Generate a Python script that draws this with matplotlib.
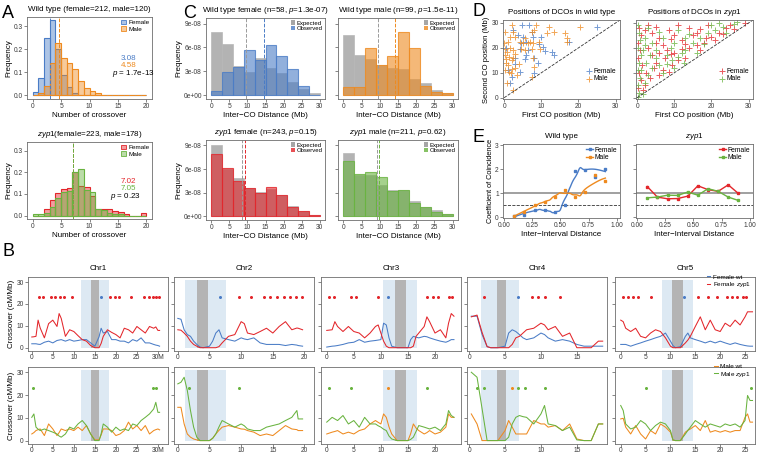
import numpy as np
import matplotlib
matplotlib.use('Agg')
import matplotlib.pyplot as plt
from matplotlib.colors import to_rgba
from matplotlib.lines import Line2D
from matplotlib.patches import Patch

plt.rcParams['font.family'] = ['Liberation Sans', 'DejaVu Sans']
plt.rcParams['mathtext.fontset'] = 'custom'
plt.rcParams['mathtext.rm'] = 'Liberation Sans'
plt.rcParams['mathtext.it'] = 'Liberation Sans:italic'

BLUE, ORANGE, RED, GREEN = '#4a7cc6', '#ee8a1f', '#e3262b', '#69b33f'
GRAY = '#a8a8a8'

# ---- panel A: crossover counts per gamete (bins of 1) ----
co_bins = np.arange(20)
a_wt_female = [0.013, 0.075, 0.25, 0.325, 0.2, 0.09, 0.035, 0.012, 0, 0, 0, 0, 0, 0, 0, 0, 0, 0, 0, 0]
a_wt_male = [0, 0.008, 0.04, 0.142, 0.225, 0.16, 0.14, 0.115, 0.063, 0.033, 0.017, 0.008, 0, 0, 0, 0, 0, 0, 0, 0]
a_zyp_female = [0, 0, 0.028, 0.07, 0.103, 0.123, 0.127, 0.2, 0.135, 0.13, 0.09, 0.03, 0.03, 0.03, 0.02, 0.015, 0.008, 0, 0, 0.01]
a_zyp_male = [0.005, 0.005, 0.01, 0.04, 0.08, 0.11, 0.115, 0.2, 0.213, 0.12, 0.11, 0.03, 0.025, 0.01, 0.008, 0.005, 0, 0, 0, 0]
a_means = [3.08, 4.58, 7.02, 7.05]

# ---- panel C: inter-CO distances (bins of 3 Mb) ----
ico_bins = np.arange(0, 30, 3)
c_exp_wt_f = [7.98, 6.45, 3.69, 2.9, 4.7, 3.4, 2.8, 1.6, 0.8, 0.2]
c_obs_wt_f = [0.55, 2.84, 3.48, 5.73, 4.46, 6.24, 4.97, 3.31, 1.15, 0.05]
c_exp_wt_m = [7.6, 5.07, 4.5, 3.8, 3.4, 3.3, 2.0, 1.5, 0.63, 0.25]
c_obs_wt_m = [0.98, 0.98, 5.9, 3.8, 4.9, 7.9, 5.9, 1.14, 0.4, 0.25]
c_exp_zyp_f = [9.0, 6.0, 4.85, 3.6, 3.1, 3.4, 2.7, 1.3, 0.7, 0.15]
c_obs_zyp_f = [7.94, 6.14, 4.42, 3.52, 3.0, 3.73, 2.66, 1.2, 0.64, 0.13]
c_exp_zyp_m = [8.1, 5.2, 5.3, 3.9, 3.3, 3.3, 1.93, 1.2, 0.77, 0.21]
c_obs_zyp_m = [7.0, 5.36, 5.57, 5.0, 3.2, 3.3, 1.71, 1.2, 0.56, 0.21]
c_means = [(9.65, 14.6), (9.5, 14.1), (8.5, 9.2), (9.3, 9.8)]

# ---- panel D: first / second CO positions (Mb) ----
d_wt_f = [(4.8, 29), (6.8, 29.2), (25, 28.5), (3.8, 25), (5, 24.5), (7.9, 24.4), (10, 24.2), (4.5, 22),
          (6, 22.5), (17.5, 22.5), (4.3, 19.5), (6.5, 19), (11, 18.8), (12.8, 18.5), (13.5, 17), (3, 16),
          (5.5, 15.5), (8, 15.8), (9, 14), (1, 11), (4.3, 10.5), (8, 10), (1.5, 6), (2, 8.5), (10.5, 20.5),
          (7.5, 26.5), (3, 13.5), (0.5, 20), (6, 17), (9.5, 21.5), (2.5, 27)]
d_wt_m = [(2.1, 29), (8.5, 29.3), (12, 28.5), (20.5, 28.5), (0.3, 26.5), (2.5, 26.5), (7.5, 26.5), (8, 27),
          (11.5, 26), (13.3, 26.5), (16.5, 26), (3, 24.2), (1.5, 24.5), (5.7, 24), (17, 24), (0.1, 22),
          (1, 22.5), (4.3, 22.3), (5, 22), (6.5, 21.8), (7, 22.5), (7.9, 22), (9.5, 22.5), (16.9, 22.5),
          (0.2, 19.5), (0.8, 18.5), (1.5, 20), (2.5, 19), (4.5, 19.5), (5.7, 19), (7.5, 19.5), (9.7, 19.5),
          (0.3, 17), (0.5, 15.5), (1.2, 16.5), (2, 15), (2.5, 16), (3, 17.5), (0.4, 14), (1, 13), (7.9, 16),
          (0.2, 11), (1.2, 10.5), (1.8, 10), (2.9, 12), (7.5, 8.5), (0.8, 6), (2.5, 3.3), (8, 12.5),
          (2, 11.5), (4, 13.5), (3.5, 9)]
d_zyp_f = [(0.5, 28), (1, 25), (0.3, 22), (0.8, 19), (0.2, 16), (1.2, 13), (0.5, 10), (1, 7), (0.3, 4),
           (2, 27), (3, 29), (4, 26), (5, 28.5), (6, 24), (7, 21), (8.5, 27), (10, 25), (11, 29), (12, 23),
           (14, 28), (15, 25), (17, 27.5), (18, 22), (19, 29), (20, 24.5), (22, 26), (24, 28), (26, 27.5),
           (29, 30), (3, 20), (4, 17), (5, 14), (6, 18), (7.5, 16), (8, 19), (9, 17.5), (9.5, 13), (10, 18),
           (11, 15), (12, 19.5), (13, 16), (14, 20), (16, 21), (17, 19), (18.5, 24), (21, 23), (23, 25.5),
           (2.5, 10), (3.5, 8), (4.5, 12), (6, 9), (7, 11), (8.5, 10.5), (2, 5), (1.5, 3), (5, 22),
           (9, 23.5), (13, 21.5), (16, 26), (25, 29)]
d_zyp_m = [(0.2, 29), (0.5, 26), (0.8, 23), (0.3, 20), (1, 17), (0.5, 14), (0.2, 11), (0.8, 8), (0.3, 5),
           (0.5, 2), (0.2, 0.5), (1.5, 1.5), (2, 24), (3, 28), (4, 22), (5, 19), (6, 26.5), (7, 24), (8, 17),
           (9, 20), (9.5, 15), (10, 22), (11, 27), (12, 18), (13, 24), (14, 25.5), (15, 22), (17, 24),
           (19, 26), (20, 29), (21, 27), (22, 30), (23, 28.5), (26, 29.5), (27, 30.5), (2.5, 14), (3, 9),
           (4, 12), (5, 16), (6, 13), (7, 10), (8, 13.5), (1.5, 19), (2, 6), (3.5, 17), (10, 12),
           (11, 16.5), (12.5, 14), (13, 19), (18, 21.5), (16, 18), (24, 26), (1, 11), (2, 21)]

# ---- panel E: coefficient of coincidence ----
ii_dist = [0.09, 0.18, 0.27, 0.36, 0.45, 0.54, 0.63, 0.72, 0.81, 0.90]
coc_wt_f = [0.04, 0.10, 0.31, 0.31, 0.23, 0.51, 1.93, 1.98, 1.69, 2.02]
coc_wt_m = [0.07, 0.20, 0.51, 0.63, 0.83, 1.14, 0.84, 1.07, 1.75, 1.52]
coc_zyp_f = [1.28, 0.84, 0.77, 0.78, 0.88, 1.31, 1.15, 1.08, 1.35, 0.99]
coc_zyp_m = [0.81, 0.84, 0.92, 0.91, 1.05, 0.92, 1.19, 1.08, 0.84, 0.70]

# ---- panel B: crossover rate along chromosomes (cM/Mb) ----
pos_chr1 = [0, 0.5, 1, 1.5, 2, 3, 4, 5, 6, 6.5, 7, 8, 9, 10, 11, 12, 13, 14, 15, 16, 16.5, 17, 18, 19, 20,
            21, 22, 23, 24, 25, 26, 27, 28, 29, 29.5, 30, 30.4]
fwt_chr1 = [1.8, 1.8, 1.8, 1.6, 1.5, 2.5, 3.0, 2.2, 3.3, 3.5, 3.7, 3.0, 3.7, 3.0, 3.3, 3.7, 3.7, 2.2, 0.7,
            5.0, 8.9, 6.7, 7.4, 3.7, 3.7, 3.0, 3.0, 2.2, 3.7, 3.0, 4.5, 2.2, 2.2, 1.5, 1.2, 1.0, 0.7]
fzyp_chr1 = [4.9, 5.0, 5.2, 12.6, 9.0, 4.5, 11.0, 12.6, 9.7, 15.6, 13.4, 5.2, 8.2, 7.4, 5.5, 3.7, 3.0, 1.0,
             0, 0, 2.0, 5.2, 8.2, 7.0, 6.0, 4.5, 8.9, 8.2, 6.7, 9.7, 8.2, 6.7, 9.7, 8.9, 9.5, 7.9, 7.9]
mwt_chr1 = [2.9, 3.5, 4.4, 4.8, 5.1, 2.2, 7.3, 5.1, 2.2, 3.5, 5.1, 4.4, 5.1, 4.4, 5.9, 4.4, 6.6, 2.9, 0.3,
            0.3, 2.5, 5.1, 5.1, 4.4, 2.2, 2.9, 4.4, 8.1, 5.1, 6.6, 4.4, 6.6, 2.9, 4.4, 4.8, 5.1, 4.7]
mzyp_chr1 = [10.2, 11.7, 5.9, 5.0, 4.4, 5.1, 4.4, 3.7, 2.9, 2.0, 1.5, 2.9, 5.9, 5.1, 7.3, 8.8, 6.6, 2.9, 0,
             0, 3.0, 7.3, 5.9, 3.7, 5.9, 4.4, 5.1, 4.4, 7.3, 6.6, 8.8, 10.2, 11.7, 13.9, 16.8, 12.4, 12.4]

pos_chr2 = [0, 0.5, 1, 1.5, 2, 2.5, 3, 3.5, 4, 5, 5.5, 6, 6.5, 7, 8, 9, 10, 10.5, 11, 12, 13, 14, 15, 16,
            17, 18, 18.8, 19, 19.7]
fwt_chr2 = [13.4, 13.0, 8.2, 6.0, 5.2, 3.0, 1.5, 0.3, 0, 0.7, 3.0, 6.7, 8.2, 4.5, 3.7, 3.0, 4.5, 4.0, 3.7,
            4.5, 2.2, 1.5, 1.5, 1.5, 1.0, 1.5, 1.2, 1.0, 0.7]
fzyp_chr2 = [8.2, 8.0, 6.7, 5.2, 3.0, 1.5, 0.7, 0, 0, 0, 0, 0, 0.5, 2.2, 5.2, 6.0, 11.9, 11.0, 6.7, 6.0,
             7.4, 8.9, 6.7, 9.7, 11.9, 8.2, 9.0, 8.9, 8.2]
mwt_chr2 = [14.6, 14.6, 7.3, 2.9, 1.5, 0.7, 0.3, 0, 0, 0, 1.0, 2.9, 4.5, 5.9, 6.6, 5.9, 5.1, 5.0, 4.4, 3.7,
            2.2, 2.9, 2.2, 4.4, 6.6, 5.1, 4.8, 4.4, 4.4]
mzyp_chr2 = [24.9, 25.6, 27.8, 22.0, 13.2, 5.9, 1.5, 0, 0, 0, 1.0, 2.9, 6.0, 8.8, 7.3, 5.9, 7.3, 6.5, 5.1,
             4.4, 4.4, 5.9, 6.6, 7.3, 8.8, 10.2, 13.2, 9.5, 9.5]

pos_chr3 = [0, 1, 1.5, 2, 3, 4, 5, 6, 7, 8, 9, 9.5, 10, 10.5, 11, 11.5, 12, 13, 14, 15, 15.5, 16, 16.5, 17,
            18, 18.5, 19, 20, 21, 22, 22.5, 23, 23.5]
fwt_chr3 = [0.3, 0.7, 0.8, 1.0, 1.5, 2.2, 2.5, 3.7, 2.5, 3.0, 3.3, 3.5, 3.7, 11.2, 10.4, 4.5, 0.7, 0, 0, 0,
            3.7, 5.2, 4.8, 4.5, 5.2, 5.0, 4.5, 3.7, 3.0, 2.5, 3.0, 3.7, 3.7]
fzyp_chr3 = [7.9, 8.2, 11.9, 9.7, 7.4, 9.7, 7.4, 6.7, 4.5, 6.7, 9.7, 10.4, 6.7, 3.0, 0.7, 0, 0, 0, 0, 0, 0,
             0.7, 5.2, 6.7, 9.7, 14.1, 11.9, 6.7, 8.2, 4.5, 11.2, 15.6, 14.4]
mwt_chr3 = [2.9, 3.7, 4.0, 4.4, 2.9, 3.7, 2.9, 4.4, 5.1, 7.3, 8.8, 8.0, 7.3, 11.7, 10.2, 6.0, 2.9, 0, 0, 0,
            3.0, 7.3, 5.5, 4.4, 2.9, 3.5, 4.4, 2.9, 3.7, 5.9, 11.7, 10.2, 10.2]
mzyp_chr3 = [8.1, 10.2, 9.5, 8.8, 11.0, 7.3, 8.8, 5.9, 10.2, 7.3, 7.3, 6.5, 5.9, 5.0, 4.4, 2.0, 0.7, 0, 0, 0,
             0.5, 1.5, 4.0, 6.6, 5.9, 5.5, 5.1, 5.9, 4.4, 7.3, 13.2, 11.0, 10.2]

pos_chr4 = [0.3, 1.1, 1.8, 2.5, 3, 4, 5, 5.5, 6, 6.5, 7, 7.5, 8, 9, 10, 10.5, 11, 12, 13, 14, 15, 16, 17, 18,
            18.6]
fwt_chr4 = [14.4, 14.4, 6.0, 0.5, 0, 0, 0.7, 6.7, 8.2, 7.4, 6.0, 4.5, 3.7, 4.5, 6.7, 6.0, 4.5, 3.0, 3.7, 3.0,
            1.5, 0.7, 0.7, 0.7, 0.7]
fzyp_chr4 = [14.1, 14.9, 7.0, 0.5, 0, 0, 0, 0, 1.5, 4.5, 5.2, 6.7, 8.2, 8.9, 11.2, 10.4, 8.2, 9.7, 5.2, 6.7,
             0, 0, 0, 3.0, 3.0]
mwt_chr4 = [11.7, 7.3, 0, 0, 0, 0, 4.4, 8.8, 5.9, 2.9, 2.9, 2.9, 2.9, 8.8, 7.3, 7.3, 5.9, 6.6, 4.4, 7.3, 0.7,
            0, 0, 7.3, 7.3]
mzyp_chr4 = [30.0, 27.8, 14.0, 0, 0, 0, 0, 1.5, 7.3, 10.2, 11.0, 10.5, 10.2, 7.3, 11.7, 15.4, 7.3, 6.6, 4.4,
             5.9, 0.3, 0, 0, 7.3, 7.3]

pos_chr5 = [0, 0.5, 1, 2, 3, 4, 5, 6, 7, 8, 9, 10, 10.5, 11, 12, 13, 13.5, 14, 15, 16, 17, 18, 19, 20, 21,
            22, 23, 24, 25, 25.5, 26, 26.5]
fwt_chr5 = [1.5, 1.5, 1.5, 0.7, 1.5, 2.2, 3.0, 3.7, 4.5, 5.2, 6.7, 3.0, 1.0, 0, 0.5, 5.2, 6.7, 4.5, 3.7, 3.0,
            2.2, 3.0, 2.2, 3.0, 2.2, 1.5, 2.2, 1.5, 1.0, 0.8, 0.7, 0.7]
fzyp_chr5 = [12.6, 11.9, 8.9, 7.4, 8.9, 5.2, 4.5, 6.7, 8.2, 7.4, 4.5, 0.7, 0, 0, 0, 2.2, 3.5, 5.2, 9.7, 14.1,
             8.2, 12.6, 8.2, 7.4, 11.2, 9.7, 12.6, 10.4, 14.1, 16.4, 16.4, 16.4]
mwt_chr5 = [9.5, 9.8, 5.9, 2.9, 6.6, 2.9, 0.7, 4.4, 2.9, 7.3, 5.9, 3.7, 0.3, 0, 0, 3.7, 4.5, 5.1, 6.6, 4.4,
            8.8, 3.7, 4.4, 3.7, 4.4, 3.7, 4.4, 4.4, 10.2, 11.7, 8.1, 8.1]
mzyp_chr5 = [15.4, 13.2, 7.3, 5.1, 5.9, 8.8, 7.3, 4.4, 6.6, 8.1, 7.3, 4.4, 0.3, 0, 0, 2.9, 4.5, 5.9, 8.8, 7.3,
             5.9, 7.3, 6.6, 5.9, 7.3, 6.6, 7.3, 5.9, 8.8, 19.8, 17.6, 17.6]

# significant intervals (stars), positions in Mb
star_f_zyp = [[1.6, 2.6, 4.6, 5.6, 6.6, 7.6, 9.6, 18.6, 19.7, 20.8, 23.6, 26.6, 27.8, 28.8, 29.6, 30.3],
              [9.6, 11.6, 13.6, 14.6, 15.6, 16.7, 17.7, 18.7, 19.6],
              [0.4, 1.4, 4.4, 5.4, 9.5, 18.6, 19.6, 20.6, 22.6, 23.2],
              [2.0, 8.7, 9.6, 10.6, 12.6],
              [0.4, 1.5, 2.5, 3.5, 6.1, 15.6, 17.5, 19.4, 21.3, 22.4, 23.4, 24.5, 25.2]]
star_f_wt = [[16.5], [6.6], [11.4], [6.8], [12.8]]
star_m_zyp = [[0.4, 28.8, 29.6], [1.7, 9.6], [0.4, 4.4, 18.6], [1.1, 2.0, 6.8, 7.8, 10.6], [5.1, 26.2]]
star_m_wt = [[], [], [11.4], [5.9], []]

chr_names = ['Chr1', 'Chr2', 'Chr3', 'Chr4', 'Chr5']
pericentromere = [(11.6, 18.4), (1.1, 7.6), (10.4, 16.7), (1.6, 6.9), (8.4, 14.6)]
centromere = [(14.1, 16.1), (3.1, 4.8), (12.6, 14.7), (3.9, 5.2), (10.4, 12.5)]
chr_xlim = [(-0.9, 32.4), (-0.6, 21.5), (-1.06, 24.8), (-0.3, 19.2), (-1.15, 27.0)]
chr_ticks = [[0, 5, 10, 15, 20, 25, 30], [0, 5, 10, 15, 20], [0, 5, 10, 15, 20], [0, 5, 10, 15],
             [0, 5, 10, 15, 20, 25]]

W, H = 757, 455
fig = plt.figure(figsize=(W / 100, H / 100), dpi=100)

FS_TICK, FS_LAB, FS_TITLE, FS_LEG = 4.8, 5.8, 5.8, 4.6


def add_ax(x0, y0, x1, y1):
  return fig.add_axes([x0 / W, 1 - y1 / H, (x1 - x0) / W, (y1 - y0) / H])


def style(ax):
  for s in ax.spines.values():
    s.set_color('#6e6e6e')
    s.set_linewidth(0.6)
  ax.tick_params(labelsize=FS_TICK, length=2, width=0.5, pad=1, colors='#555555', labelcolor='#3a3a3a')


def loess(x, y, xs, span=0.6):
  x, y = np.asarray(x), np.asarray(y)
  q = int(np.ceil(span * len(x)))
  out = []
  for x0 in xs:
    d = np.abs(x - x0)
    h = np.sort(d)[q - 1] * 1.01
    w = np.clip(1 - (d / h) ** 3, 0, None) ** 3
    coef = np.polyfit(x, y, 2, w=np.sqrt(w))
    out.append(np.polyval(coef, x0))
  return np.array(out)


# ================= A =================
def hist_a(ax, fem, male, cf, cm, means, title, texts):
  ax.bar(co_bins, fem, width=1, align='edge', facecolor=to_rgba(cf, 0.45), edgecolor=cf, lw=0.8)
  ax.bar(co_bins, male, width=1, align='edge', facecolor=to_rgba(cm, 0.45), edgecolor=cm, lw=0.8)
  ax.axvline(means[0], color=cf, ls='--', lw=0.7)
  ax.axvline(means[1], color=cm, ls='--', lw=0.7)
  ax.set_xlim(-1, 21)
  ax.set_ylim(-0.016, 0.34)
  ax.set_xticks([0, 5, 10, 15, 20])
  ax.set_yticks([0, 0.1, 0.2, 0.3])
  ax.set_yticklabels(['0.0', '0.1', '0.2', '0.3'])
  ax.set_xlabel('Number of crossover', fontsize=FS_LAB, labelpad=1)
  ax.set_ylabel('Frequency', fontsize=FS_LAB, labelpad=1)
  ax.set_title(title, fontsize=FS_TITLE, pad=4)
  style(ax)
  for (tx, ty, s, c) in texts:
    ax.text(tx, ty, s, transform=ax.transAxes, ha='center', va='center', fontsize=5.8, color=c)
  ax.legend(handles=[Patch(facecolor=to_rgba(cf, 0.45), edgecolor=cf, lw=0.6, label='Female'),
                     Patch(facecolor=to_rgba(cm, 0.45), edgecolor=cm, lw=0.6, label='Male')],
            loc='upper right', fontsize=FS_LEG, frameon=False, handlelength=0.8, handleheight=0.8,
            handletextpad=0.3, labelspacing=0.1, borderpad=0.2, borderaxespad=0.2)


ax = add_ax(27, 17, 152, 99)
hist_a(ax, a_wt_female, a_wt_male, BLUE, ORANGE, a_means[:2], 'Wild type (female=212, male=120)',
       [(0.81, 0.49, '3.08', BLUE), (0.81, 0.41, '4.58', ORANGE), (0.85, 0.31, r'$\it{p}$ = 1.7e-13', 'black')])
ax = add_ax(27, 142, 152, 219)
hist_a(ax, a_zyp_female, a_zyp_male, RED, GREEN, a_means[2:], r'$\it{zyp1}$(female=223, male=178)',
       [(0.81, 0.49, '7.02', RED), (0.81, 0.40, '7.05', GREEN), (0.79, 0.29, r'$\it{p}$ = 0.23', 'black')])


# ================= C =================
def hist_c(ax, exp, obs, c, means, title, show_y):
  ax.bar(ico_bins, np.array(exp) * 1e-8, width=3, align='edge', facecolor='#a6a6a6', alpha=0.85,
         edgecolor='#b8b8b8', lw=0.6)
  ax.bar(ico_bins, np.array(obs) * 1e-8, width=3, align='edge', facecolor=to_rgba(c, 0.6),
         edgecolor=to_rgba(c, 0.8), lw=0.8)
  ax.axvline(means[0], color='#9a9a9a', ls='--', lw=0.7)
  ax.axvline(means[1], color=c, ls='--', lw=0.7)
  ax.set_xlim(-1.5, 31.5)
  ax.set_ylim(-0.5e-8, 9.7e-8)
  ax.set_xticks([0, 5, 10, 15, 20, 25, 30])
  ax.set_yticks([0, 3e-8, 6e-8, 9e-8])
  if show_y:
    ax.set_yticklabels(['0e+00', '3e-08', '6e-08', '9e-08'])
    ax.set_ylabel('Frequency', fontsize=FS_LAB, labelpad=1)
  else:
    ax.set_yticklabels([])
  ax.set_xlabel('Inter\u2212CO Distance (Mb)', fontsize=FS_LAB, labelpad=1)
  ax.set_title(title, fontsize=FS_TITLE, pad=4)
  style(ax)
  ax.legend(handles=[Patch(facecolor='#a6a6a6', label='Expected'),
                     Patch(facecolor=to_rgba(c, 0.8), label='Observed')],
            loc='upper right', fontsize=FS_LEG - 0.3, frameon=False, handlelength=0.7, handleheight=0.7,
            handletextpad=0.3, labelspacing=0.05, borderpad=0.2, borderaxespad=0.2)


hist_c(add_ax(206, 18, 325, 99), c_exp_wt_f, c_obs_wt_f, BLUE, c_means[0],
       r'Wild type female (n=58, $\it{p}$=1.3e-07)', True)
hist_c(add_ax(338, 18, 458, 99), c_exp_wt_m, c_obs_wt_m, ORANGE, c_means[1],
       r'Wild type male (n=99, $\it{p}$=1.5e-11)', False)
hist_c(add_ax(206, 140, 325, 220), c_exp_zyp_f, c_obs_zyp_f, RED, c_means[2],
       r'$\it{zyp1}$ female (n=243, $\it{p}$=0.15)', True)
hist_c(add_ax(338, 140, 458, 220), c_exp_zyp_m, c_obs_zyp_m, GREEN, c_means[3],
       r'$\it{zyp1}$ male (n=211, $\it{p}$=0.62)', False)


# ================= D =================
def scatter_d(ax, fem, male, cf, cm, title, show_y):
  for pts, c, lab in ((fem, cf, 'Female'), (male, cm, 'Male')):
    p = np.array(pts)
    ax.scatter(p[:, 0], p[:, 1], marker='+', s=18, color=c, alpha=0.75, lw=0.7, label=lab)
  ax.plot([0, 31.2], [0, 31.2], ls='--', color='#333333', lw=0.6)
  ax.set_xlim(-0.3, 31.2)
  ax.set_ylim(-0.5, 31.2)
  ax.set_xticks([0, 10, 20, 30])
  ax.set_yticks([0, 10, 20, 30])
  if show_y:
    ax.set_ylabel('Second CO position (Mb)', fontsize=FS_LAB - 0.3, labelpad=1)
  else:
    ax.set_yticklabels([])
  ax.set_xlabel('First CO position (Mb)', fontsize=FS_LAB, labelpad=1)
  ax.set_title(title, fontsize=FS_TITLE, pad=4)
  style(ax)
  ax.legend(loc='center right', bbox_to_anchor=(1.0, 0.3), fontsize=FS_LEG + 0.3, frameon=False,
            handlelength=0.8, handletextpad=0.2, labelspacing=0.05, borderpad=0.1, scatterpoints=1)


scatter_d(add_ax(503, 20, 620, 99), d_wt_f, d_wt_m, BLUE, ORANGE, 'Positions of DCOs in wild type', True)
scatter_d(add_ax(636, 20, 753, 99), d_zyp_f, d_zyp_m, RED, GREEN, r'Positions of DCOs in $\it{zyp1}$', False)


# ================= E =================
def coc_e(ax, yf, ym, cf, cm, title, show_y, smooth):
  ax.axhline(1, color='#999999', lw=1.3, zorder=1)
  ax.axhline(0.5, color='#333333', ls='--', lw=0.6, zorder=1)
  for y, c, lab in ((yf, cf, 'Female'), (ym, cm, 'Male')):
    ax.plot(ii_dist, y, 's', ms=2, color=c, zorder=3)
    if smooth:
      xs = np.linspace(ii_dist[0], ii_dist[-1], 100)
      ax.plot(xs, loess(ii_dist, y, xs), color=c, lw=1, zorder=2)
    else:
      ax.plot(ii_dist, y, color=c, lw=1, zorder=2)
  ax.set_xlim(-0.01, 1.03)
  ax.set_ylim(-0.03, 3.05)
  ax.set_xticks([0, 0.25, 0.5, 0.75, 1.0])
  ax.set_xticklabels(['0.00', '0.25', '0.50', '0.75', '1.00'])
  ax.set_yticks([0, 1, 2, 3])
  if show_y:
    ax.set_ylabel('Coefficient of Coincidence', fontsize=FS_LAB - 0.5, labelpad=1)
  else:
    ax.set_yticklabels([])
  ax.set_xlabel('Inter\u2212Interval Distance', fontsize=FS_LAB, labelpad=1)
  ax.set_title(title, fontsize=FS_TITLE, pad=4)
  style(ax)
  ax.legend(handles=[Line2D([], [], color=cf, marker='s', ms=2, lw=1, label='Female'),
                     Line2D([], [], color=cm, marker='s', ms=2, lw=1, label='Male')],
            loc='upper right', fontsize=FS_LEG + 0.3, frameon=False, handlelength=0.9,
            handletextpad=0.3, labelspacing=0.05, borderpad=0.2, borderaxespad=0.2)


coc_e(add_ax(503, 144, 620, 218), coc_wt_f, coc_wt_m, BLUE, ORANGE, 'Wild type', True, True)
coc_e(add_ax(636, 144, 753, 218), coc_zyp_f, coc_zyp_m, RED, GREEN, r'$\it{zyp1}$', False, False)


# ================= B =================
positions = [pos_chr1, pos_chr2, pos_chr3, pos_chr4, pos_chr5]
rows = [
  ([fwt_chr1, fwt_chr2, fwt_chr3, fwt_chr4, fwt_chr5], [fzyp_chr1, fzyp_chr2, fzyp_chr3, fzyp_chr4, fzyp_chr5],
   BLUE, RED, star_f_wt, star_f_zyp, ('Female wt', r'Female $\it{zyp1}$'), (277, 351)),
  ([mwt_chr1, mwt_chr2, mwt_chr3, mwt_chr4, mwt_chr5], [mzyp_chr1, mzyp_chr2, mzyp_chr3, mzyp_chr4, mzyp_chr5],
   ORANGE, GREEN, star_m_wt, star_m_zyp, ('Male wt', r'Male $\it{zyp1}$'), (367, 444)),
]
b_left = [28, 174, 321, 467, 615]
for r, (wt, zyp, cw, cz, swt, szyp, labs, (y0, y1)) in enumerate(rows):
  for i in range(5):
    ax = add_ax(b_left[i], y0, b_left[i] + 140, y1)
    ax.fill_between(pericentromere[i], 0, 31, color='#dde9f3', lw=0, zorder=0)
    ax.fill_between(centromere[i], 0, 31, color='#b4b4b4', lw=0, zorder=0)
    ax.plot(positions[i], wt[i], color=cw, lw=0.75, label=labs[0])
    ax.plot(positions[i], zyp[i], color=cz, lw=0.75, label=labs[1])
    ax.plot(szyp[i], [23] * len(szyp[i]), ls='none', marker=(6, 2, 0), ms=2.0, mew=0.6, color=cz)
    ax.plot(swt[i], [23] * len(swt[i]), ls='none', marker=(6, 2, 0), ms=2.0, mew=0.6, color=cw)
    ax.set_xlim(*chr_xlim[i])
    ax.set_ylim(-1.5, 32.3)
    ax.set_xticks(chr_ticks[i])
    if i == 0:
      ax.set_xticklabels([str(t) for t in chr_ticks[i][:-1]] + ['30M'])
      ax.set_yticks([0, 10, 20, 30])
      ax.set_ylabel('Crossover (cM/Mb)', fontsize=FS_LAB, labelpad=1)
    else:
      ax.set_yticks([0, 10, 20, 30])
      ax.set_yticklabels([])
    if r == 0:
      ax.set_title(chr_names[i], fontsize=FS_TITLE, pad=5)
    style(ax)
    ax.tick_params(axis='x', pad=0.5)
    if i == 4:
      ax.legend(loc='upper right', bbox_to_anchor=(1.0, 1.09), fontsize=FS_LEG, frameon=False,
                handlelength=0.6, handletextpad=0.4, labelspacing=0.05, borderpad=0.1)

# panel letters
for lab, x, y in (('A', 2, 13), ('B', 2, 251), ('C', 183, 13), ('D', 472, 12), ('E', 472, 137)):
  fig.text(x / W, 1 - y / H, lab, fontsize=13, va='center', ha='left')

fig.savefig('out.png', dpi=100)
